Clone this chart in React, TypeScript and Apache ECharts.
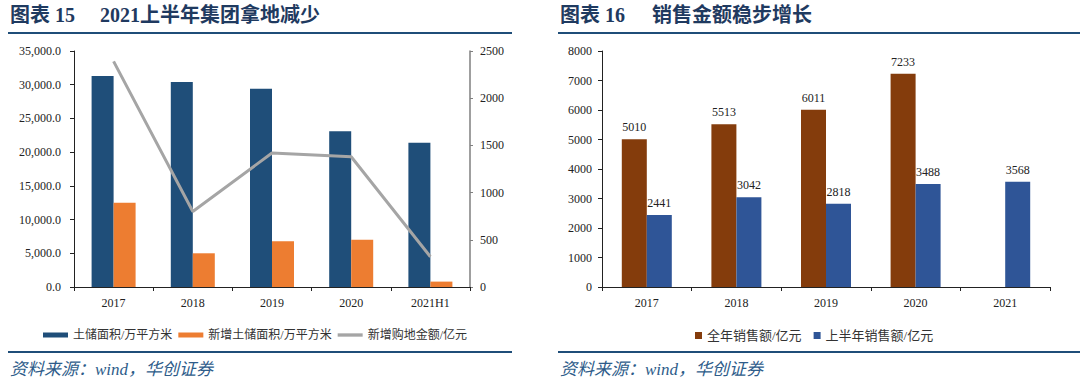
import React, { useEffect, useRef } from "react";
import * as echarts from "echarts";

const categoriesL = ["2017", "2018", "2019", "2020", "2021H1"];
const landBank = [31300, 30400, 29400, 23100, 21400];
const newLandBank = [12500, 5000, 6800, 7000, 800];
const landCost = [2390, 800, 1420, 1380, 320];
const leftTicks = { min: 0, max: 35000, interval: 5000 };
const rightTicks = { min: 0, max: 2500, interval: 500 };

const categoriesR = ["2017", "2018", "2019", "2020", "2021"];
const fullYearSales = [5010, 5513, 6011, 7233, null];
const halfYearSales = [2441, 3042, 2818, 3488, 3568];
const salesTicks = { min: 0, max: 8000, interval: 1000 };

const namesL = ["土储面积/万平方米", "新增土储面积/万平方米", "新增购地金额/亿元"];
const namesR = ["全年销售额/亿元", "上半年销售额/亿元"];

const SERIF = "'Liberation Serif', 'Times New Roman', 'Noto Sans CJK SC', serif";
const NAVY = "#1F3A60";
const RULE = "#1F4E79";

export default function App() {
  const ref = useRef<HTMLDivElement>(null);
  useEffect(() => {
    if (!ref.current) return;
    const chart = echarts.init(ref.current, null, { renderer: "svg" });
    const axisText = { color: "#222", fontFamily: SERIF, fontSize: 12 };
    const plain = (v: number) => String(v);
    const catAxis = (gridIndex: number, data: string[]) => ({
      type: "category",
      gridIndex,
      data,
      axisLine: { lineStyle: { color: "#222", width: 1 } },
      axisTick: { show: true, alignWithLabel: false, length: 4, lineStyle: { color: "#222" } },
      axisLabel: { ...axisText, margin: 10 },
    });
    chart.setOption({
      animation: false,
      backgroundColor: "#fff",
      grid: [
        { left: 74, top: 51, width: 396, height: 236 },
        { left: 602, top: 51, width: 448, height: 236 },
      ],
      xAxis: [catAxis(0, categoriesL), catAxis(1, categoriesR)],
      yAxis: [
        {
          type: "value",
          gridIndex: 0,
          ...leftTicks,
          splitLine: { show: false },
          axisLine: { show: true, lineStyle: { color: "#222" } },
          axisTick: { show: true, length: 4, lineStyle: { color: "#222" } },
          axisLabel: {
            ...axisText,
            margin: 13,
            formatter: (v: number) =>
              v.toLocaleString("en-US", { minimumFractionDigits: 1, maximumFractionDigits: 1 }),
          },
        },
        {
          type: "value",
          gridIndex: 0,
          position: "right",
          ...rightTicks,
          splitLine: { show: false },
          axisLine: { show: true, lineStyle: { color: "#7F7F7F", width: 1.5 } },
          axisTick: { show: true, length: 3, lineStyle: { color: "#7F7F7F" } },
          axisLabel: { ...axisText, margin: 10, formatter: plain },
        },
        {
          type: "value",
          gridIndex: 1,
          ...salesTicks,
          splitLine: { show: false },
          axisLine: { show: true, lineStyle: { color: "#222" } },
          axisTick: { show: true, length: 4, lineStyle: { color: "#222" } },
          axisLabel: { ...axisText, margin: 10, formatter: plain },
        },
      ],
      legend: [
        {
          left: 38,
          top: 324,
          itemWidth: 25,
          itemHeight: 5,
          itemGap: 6,
          data: [
            { name: namesL[0], icon: "rect" },
            { name: namesL[1], icon: "rect" },
            { name: namesL[2], icon: "path://M0,0H30V4H0Z" },
          ],
          textStyle: { color: "#333", fontFamily: SERIF, fontSize: 12 },
        },
        {
          left: 690,
          top: 324,
          itemWidth: 7,
          itemHeight: 7,
          itemGap: 12,
          data: [
            { name: namesR[0], icon: "rect" },
            { name: namesR[1], icon: "rect" },
          ],
          textStyle: { color: "#333", fontFamily: SERIF, fontSize: 13 },
        },
      ],
      series: [
        {
          name: namesL[0],
          type: "bar",
          xAxisIndex: 0,
          yAxisIndex: 0,
          data: landBank,
          barWidth: 22,
          barGap: "0%",
          itemStyle: { color: "#1F4E79" },
        },
        {
          name: namesL[1],
          type: "bar",
          xAxisIndex: 0,
          yAxisIndex: 0,
          data: newLandBank,
          barWidth: 22,
          barGap: "0%",
          itemStyle: { color: "#ED7D31" },
        },
        {
          name: namesL[2],
          type: "line",
          xAxisIndex: 0,
          yAxisIndex: 1,
          data: landCost,
          symbol: "none",
          lineStyle: { color: "#A5A5A5", width: 3 },
          itemStyle: { color: "#A5A5A5" },
        },
        {
          name: namesR[0],
          type: "bar",
          xAxisIndex: 1,
          yAxisIndex: 2,
          data: fullYearSales,
          barWidth: 25,
          barGap: "0%",
          itemStyle: { color: "#843C0C" },
          label: { show: true, position: "top", distance: 6, color: "#222", fontFamily: SERIF, fontSize: 12 },
        },
        {
          name: namesR[1],
          type: "bar",
          xAxisIndex: 1,
          yAxisIndex: 2,
          data: halfYearSales,
          barWidth: 25,
          barGap: "0%",
          itemStyle: { color: "#2F5597" },
          label: { show: true, position: "top", distance: 6, color: "#222", fontFamily: SERIF, fontSize: 12 },
        },
      ],
      graphic: [
        { type: "text", left: 10, top: 5, style: { text: "图表 15", fill: NAVY, font: `bold 20px ${SERIF}` } },
        { type: "text", left: 100, top: 5, style: { text: "2021上半年集团拿地减少", fill: NAVY, font: `bold 20px ${SERIF}` } },
        { type: "text", left: 560, top: 5, style: { text: "图表 16", fill: NAVY, font: `bold 20px ${SERIF}` } },
        { type: "text", left: 652, top: 5, style: { text: "销售金额稳步增长", fill: NAVY, font: `bold 20px ${SERIF}` } },
        { type: "rect", shape: { x: 8, y: 32, width: 504, height: 2 }, style: { fill: RULE } },
        { type: "rect", shape: { x: 558, y: 32, width: 522, height: 2 }, style: { fill: RULE } },
        { type: "rect", shape: { x: 8, y: 351, width: 504, height: 2 }, style: { fill: RULE } },
        { type: "rect", shape: { x: 558, y: 351, width: 522, height: 2 }, style: { fill: RULE } },
        { type: "text", left: 10, top: 361, style: { text: "资料来源：wind，华创证券", fill: "#2E5C8A", font: `italic 17px ${SERIF}` } },
        { type: "text", left: 560, top: 361, style: { text: "资料来源：wind，华创证券", fill: "#2E5C8A", font: `italic 17px ${SERIF}` } },
      ],
    });
    return () => chart.dispose();
  }, []);
  return (
    <div
      ref={ref}
      style={{ position: "absolute", left: 0, top: 0, width: 1080, height: 381, background: "#fff" }}
    />
  );
}
